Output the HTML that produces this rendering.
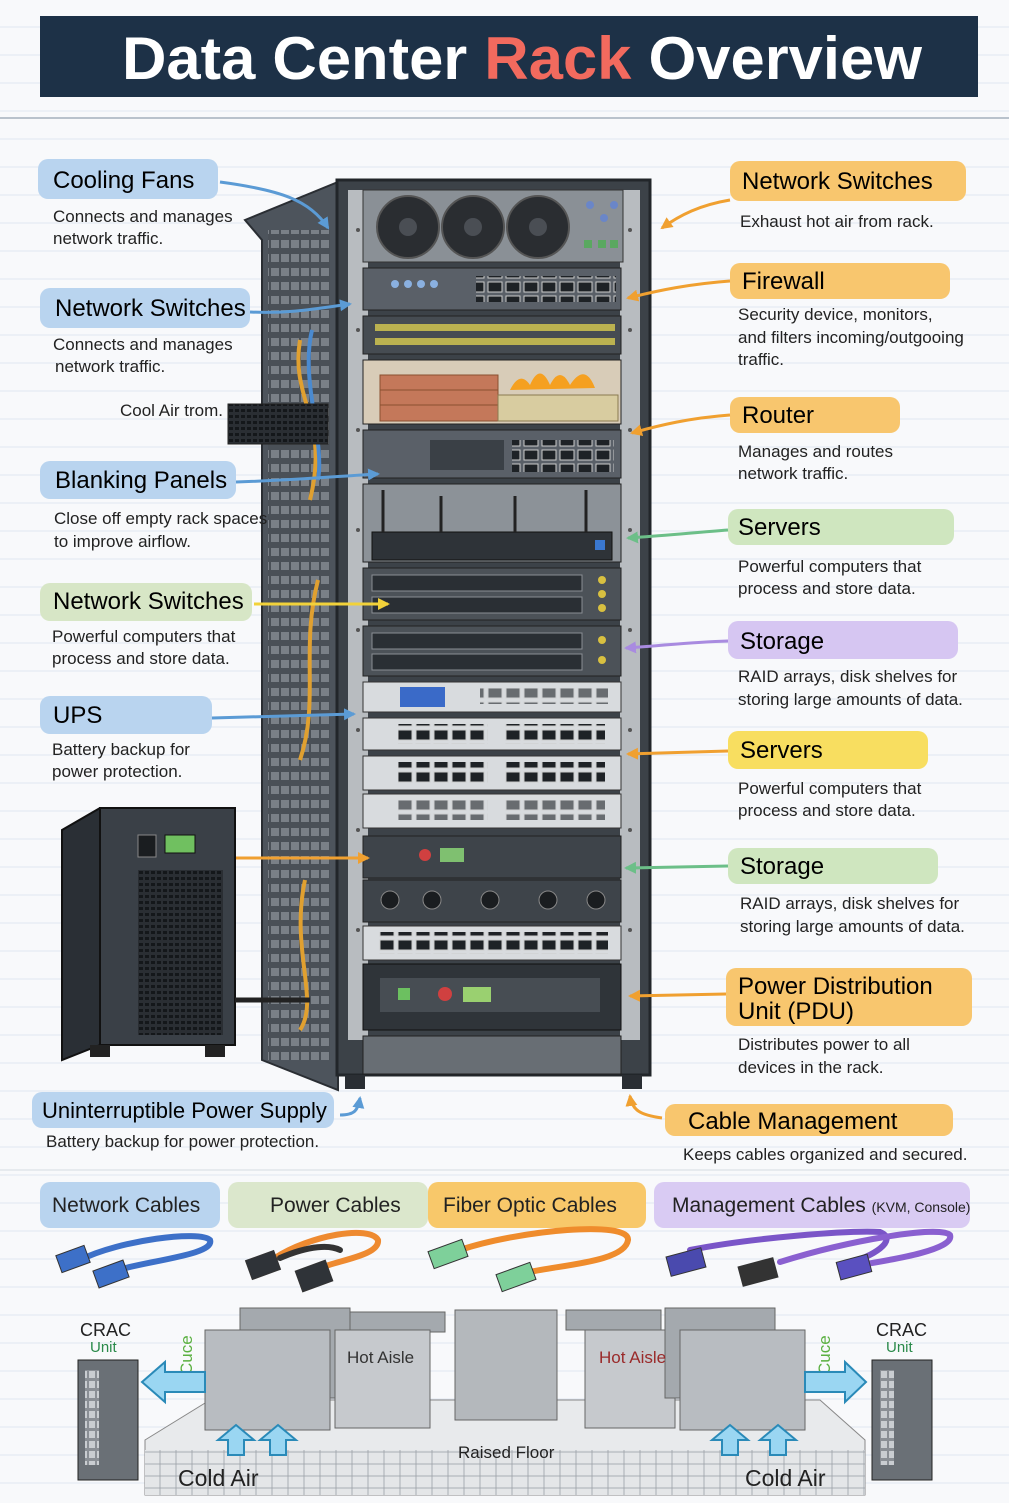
<!DOCTYPE html>
<html><head><meta charset="utf-8"><style>
html,body{margin:0;padding:0;background:#f7f8fa}
svg{display:block}
text{font-family:"Liberation Sans",sans-serif}
</style></head><body>
<svg width="1009" height="1503" viewBox="0 0 1009 1503" xmlns="http://www.w3.org/2000/svg">
<defs>
<pattern id="lines" width="1009" height="28" patternUnits="userSpaceOnUse"><line x1="0" y1="27" x2="1009" y2="27" stroke="#dfe6f0" stroke-width="1"/></pattern>
<pattern id="ports" width="18" height="14" patternUnits="userSpaceOnUse"><rect x="2" y="2" width="14" height="10" fill="#1e2226" stroke="#ccc" stroke-width="1"/></pattern>
<pattern id="grill" width="6" height="6" patternUnits="userSpaceOnUse"><rect width="6" height="6" fill="#2a2e33"/><rect x="1" y="1" width="4" height="3" fill="#14171a"/></pattern>
<pattern id="tiles" width="16" height="12" patternUnits="userSpaceOnUse"><rect width="16" height="12" fill="#e4e6e8" stroke="#9aa0a6" stroke-width="0.8"/></pattern>
<pattern id="vents" width="10" height="14" patternUnits="userSpaceOnUse"><rect width="10" height="14" fill="#4a5057"/><rect x="1" y="2" width="8" height="8" fill="#7a8087"/></pattern>
<pattern id="vents2" width="8" height="10" patternUnits="userSpaceOnUse"><rect width="8" height="10" fill="#8a8f95"/><rect x="1" y="1" width="6" height="7" fill="#c9cdd1"/></pattern>
<marker id="ab" markerUnits="userSpaceOnUse" markerWidth="14" markerHeight="14" refX="10" refY="7" orient="auto"><path d="M0,1 L12,7 L0,13 z" fill="#5b9bd5"/></marker>
<marker id="ao" markerUnits="userSpaceOnUse" markerWidth="14" markerHeight="14" refX="10" refY="7" orient="auto"><path d="M0,1 L12,7 L0,13 z" fill="#f0a030"/></marker>
<marker id="ag" markerUnits="userSpaceOnUse" markerWidth="14" markerHeight="14" refX="10" refY="7" orient="auto"><path d="M0,1 L12,7 L0,13 z" fill="#6cbf88"/></marker>
<marker id="ap" markerUnits="userSpaceOnUse" markerWidth="14" markerHeight="14" refX="10" refY="7" orient="auto"><path d="M0,1 L12,7 L0,13 z" fill="#a98be0"/></marker>
<marker id="ay" markerUnits="userSpaceOnUse" markerWidth="14" markerHeight="14" refX="10" refY="7" orient="auto"><path d="M0,1 L12,7 L0,13 z" fill="#f2d23a"/></marker>
</defs>
<rect width="1009" height="1503" fill="#f8f9fb"/>
<rect width="1009" height="1503" fill="url(#lines)"/>
<!-- title -->
<rect x="40" y="16" width="938" height="81" fill="#1d3147"/>
<text x="522" y="79" font-size="60" font-weight="bold" fill="#fff" text-anchor="middle" textLength="800" lengthAdjust="spacingAndGlyphs">Data Center <tspan fill="#f26a5e">Rack</tspan> Overview</text>
<line x1="0" y1="118" x2="1009" y2="118" stroke="#b9c2cc" stroke-width="2"/>

<!-- rack side panel -->
<polygon points="245,220 338,182 338,1090 262,1060 262,240" fill="#4d545c" stroke="#2a2e33" stroke-width="2"/>
<rect x="268" y="230" width="62" height="830" fill="url(#vents)"/>
<path d="M300,340 C290,400 330,420 310,500 M318,580 C300,650 320,700 300,760 M305,880 C290,950 320,1000 300,1030" stroke="#e0a030" stroke-width="4" fill="none"/>
<path d="M312,330 C300,380 325,440 318,480" stroke="#4a8ad0" stroke-width="4" fill="none"/>
<rect x="228" y="404" width="100" height="40" fill="url(#grill)" stroke="#222"/>
<!-- rack front frame -->
<rect x="337" y="180" width="313" height="895" fill="#3c4248" stroke="#22262a" stroke-width="3"/>
<rect x="348" y="190" width="20" height="850" fill="#b8bcc0"/>
<rect x="620" y="190" width="20" height="850" fill="#b8bcc0"/>
<g fill="#555">
<circle cx="358" cy="230" r="2"/><circle cx="358" cy="330" r="2"/><circle cx="358" cy="430" r="2"/><circle cx="358" cy="530" r="2"/><circle cx="358" cy="630" r="2"/><circle cx="358" cy="730" r="2"/><circle cx="358" cy="830" r="2"/><circle cx="358" cy="930" r="2"/>
<circle cx="630" cy="230" r="2"/><circle cx="630" cy="330" r="2"/><circle cx="630" cy="430" r="2"/><circle cx="630" cy="530" r="2"/><circle cx="630" cy="630" r="2"/><circle cx="630" cy="730" r="2"/><circle cx="630" cy="830" r="2"/><circle cx="630" cy="930" r="2"/>
</g>
<!-- fans -->
<rect x="363" y="190" width="260" height="72" fill="#8a9096" stroke="#333"/>
<g fill="#2a2d31" stroke="#555" stroke-width="2"><circle cx="408" cy="227" r="31"/><circle cx="473" cy="227" r="31"/><circle cx="538" cy="227" r="31"/></g>
<g fill="#4a4e54"><circle cx="408" cy="227" r="9"/><circle cx="473" cy="227" r="9"/><circle cx="538" cy="227" r="9"/></g>
<g fill="#5aa860"><rect x="584" y="240" width="8" height="8"/><rect x="598" y="240" width="8" height="8"/><rect x="610" y="240" width="8" height="8"/></g>
<g fill="#6a86c8"><circle cx="590" cy="205" r="4"/><circle cx="604" cy="218" r="4"/><circle cx="614" cy="205" r="4"/></g>
<!-- switch 1 -->
<rect x="363" y="268" width="258" height="42" fill="#5a6068" stroke="#222"/>
<rect x="476" y="276" width="140" height="26" fill="url(#ports)"/>
<g fill="#8ab0e0"><circle cx="395" cy="284" r="4"/><circle cx="408" cy="284" r="4"/><circle cx="421" cy="284" r="4"/><circle cx="434" cy="284" r="4"/></g>
<!-- patch -->
<rect x="363" y="316" width="258" height="38" fill="#464c52" stroke="#222"/>
<g fill="#d8cc50"><rect x="375" y="324" width="240" height="7" opacity="0.8"/><rect x="375" y="338" width="240" height="7" opacity="0.8"/></g>
<!-- firewall -->
<rect x="363" y="360" width="258" height="64" fill="#d8ccb8" stroke="#222"/>
<g fill="#c4785a" stroke="#8a5030"><rect x="380" y="375" width="118" height="46"/></g>
<g stroke="#8a5030" stroke-width="1"><line x1="380" y1="390" x2="498" y2="390"/><line x1="380" y1="405" x2="498" y2="405"/></g>
<rect x="498" y="395" width="120" height="26" fill="#d8cca0" stroke="#8a7a50"/>
<path d="M510,390 Q520,370 530,385 Q540,362 550,385 Q560,365 570,385 Q585,362 595,388 Z" fill="#f5a020"/>
<!-- router switch -->
<rect x="363" y="430" width="258" height="48" fill="#5a6068" stroke="#222"/>
<rect x="512" y="440" width="102" height="32" fill="url(#ports)"/>
<rect x="430" y="440" width="74" height="30" fill="#3a4046"/>
<!-- wifi blank -->
<rect x="363" y="484" width="258" height="78" fill="#8c9298" stroke="#222"/>
<rect x="372" y="532" width="240" height="28" fill="#2e3338" stroke="#111"/>
<g stroke="#222" stroke-width="3"><line x1="383" y1="532" x2="383" y2="490"/><line x1="441" y1="532" x2="441" y2="496"/><line x1="515" y1="532" x2="515" y2="496"/><line x1="586" y1="532" x2="586" y2="490"/></g>
<rect x="595" y="540" width="10" height="10" fill="#3a78d0"/>
<!-- servers -->
<g stroke="#222"><rect x="363" y="568" width="258" height="52" fill="#4c5258"/><rect x="363" y="626" width="258" height="50" fill="#4c5258"/></g>
<g fill="#2a2f34" stroke="#8a8f95"><rect x="372" y="575" width="210" height="16"/><rect x="372" y="597" width="210" height="16"/><rect x="372" y="633" width="210" height="16"/><rect x="372" y="654" width="210" height="16"/></g>
<g fill="#d8c040"><circle cx="602" cy="580" r="4"/><circle cx="602" cy="594" r="4"/><circle cx="602" cy="608" r="4"/><circle cx="602" cy="640" r="4"/><circle cx="602" cy="660" r="4"/></g>
<!-- light units -->
<g fill="#d8dbde" stroke="#333"><rect x="363" y="682" width="258" height="30"/><rect x="363" y="718" width="258" height="32"/><rect x="363" y="756" width="258" height="34"/><rect x="363" y="794" width="258" height="34"/></g>
<rect x="400" y="687" width="45" height="20" fill="#3a6ac8"/><rect x="480" y="688" width="128" height="16" fill="url(#ports)" opacity="0.6"/>
<rect x="398" y="724" width="90" height="20" fill="url(#ports)"/><rect x="505" y="724" width="100" height="20" fill="url(#ports)"/>
<rect x="398" y="762" width="90" height="22" fill="url(#ports)"/><rect x="505" y="762" width="100" height="22" fill="url(#ports)"/>
<rect x="398" y="800" width="90" height="20" fill="url(#ports)" opacity="0.6"/><rect x="505" y="800" width="100" height="20" fill="url(#ports)" opacity="0.6"/>
<!-- dark units -->
<g fill="#3e444a" stroke="#222"><rect x="363" y="836" width="258" height="42"/><rect x="363" y="880" width="258" height="42"/></g>
<rect x="440" y="848" width="24" height="14" fill="#7fc070"/><circle cx="425" cy="855" r="6" fill="#d04040"/>
<g fill="#1a1d20" stroke="#888"><circle cx="390" cy="900" r="9"/><circle cx="432" cy="900" r="9"/><circle cx="490" cy="900" r="9"/><circle cx="548" cy="900" r="9"/><circle cx="596" cy="900" r="9"/></g>
<rect x="363" y="926" width="258" height="34" fill="#d8dbde" stroke="#333"/>
<rect x="378" y="932" width="230" height="22" fill="url(#ports)"/>
<!-- PDU -->
<rect x="363" y="964" width="258" height="66" fill="#2f3439" stroke="#111"/>
<rect x="380" y="978" width="220" height="34" fill="#474d53"/>
<rect x="398" y="988" width="12" height="12" fill="#6cc060"/><circle cx="445" cy="994" r="7" fill="#d04040"/><rect x="463" y="987" width="28" height="15" fill="#9ad070"/>
<rect x="363" y="1036" width="258" height="38" fill="#686e74" stroke="#222"/>
<rect x="345" y="1075" width="20" height="14" fill="#2a2e33"/><rect x="622" y="1075" width="20" height="14" fill="#2a2e33"/>

<!-- UPS -->
<polygon points="62,830 100,808 235,808 235,1045 100,1045 62,1060" fill="#2a2f35" stroke="#111" stroke-width="2"/>
<rect x="100" y="808" width="135" height="237" fill="#3a4047" stroke="#111" stroke-width="2"/>
<rect x="138" y="870" width="85" height="165" fill="url(#grill)"/>
<rect x="165" y="835" width="30" height="18" fill="#70c060" stroke="#111"/>
<rect x="138" y="835" width="18" height="22" fill="#1a1d20" stroke="#888"/>
<rect x="90" y="1045" width="20" height="12" fill="#222"/><rect x="205" y="1045" width="20" height="12" fill="#222"/>
<path d="M235,1000 L310,1000" stroke="#222" stroke-width="5"/>

<!-- left labels -->
<g font-size="24">
<rect x="38" y="159" width="180" height="40" rx="10" fill="#b9d4ef"/><text x="53" y="188">Cooling Fans</text>
<rect x="40" y="288" width="210" height="40" rx="10" fill="#b9d4ef"/><text x="55" y="316">Network Switches</text>
<rect x="40" y="461" width="196" height="38" rx="10" fill="#b9d4ef"/><text x="55" y="488">Blanking Panels</text>
<rect x="40" y="583" width="212" height="38" rx="10" fill="#d7e6c6"/><text x="53" y="609">Network Switches</text>
<rect x="40" y="696" width="172" height="38" rx="10" fill="#b9d4ef"/><text x="53" y="723">UPS</text>
<rect x="32" y="1092" width="302" height="36" rx="10" fill="#b9d4ef"/><text x="42" y="1118" font-size="22">Uninterruptible Power Supply</text>
</g>
<g font-size="17" fill="#222">
<text x="53" y="222">Connects and manages</text><text x="53" y="244">network traffic.</text>
<text x="53" y="350">Connects and manages</text><text x="55" y="372">network traffic.</text>
<text x="120" y="416">Cool Air trom.</text>
<text x="54" y="524">Close off empty rack spaces</text><text x="54" y="547">to improve airflow.</text>
<text x="52" y="642">Powerful computers that</text><text x="52" y="664">process and store data.</text>
<text x="52" y="755">Battery backup for</text><text x="52" y="777">power protection.</text>
<text x="46" y="1147">Battery backup for power protection.</text>
</g>
<!-- left arrows -->
<g fill="none" stroke-width="3">
<path d="M220,182 C280,190 310,200 328,228" stroke="#5b9bd5" marker-end="url(#ab)"/>
<path d="M250,312 C290,314 320,308 350,304" stroke="#5b9bd5" marker-end="url(#ab)"/>
<path d="M236,482 C300,480 340,476 378,474" stroke="#5b9bd5" marker-end="url(#ab)"/>
<path d="M254,604 L388,604" stroke="#f2d23a" marker-end="url(#ay)"/>
<path d="M212,718 L354,714" stroke="#5b9bd5" marker-end="url(#ab)"/>
<path d="M236,858 L368,858" stroke="#f0a030" marker-end="url(#ao)"/>
<path d="M340,1115 C355,1115 358,1110 360,1098" stroke="#5b9bd5" marker-end="url(#ab)"/>
</g>

<!-- right labels -->
<g font-size="24">
<rect x="730" y="161" width="236" height="40" rx="10" fill="#f8c66e"/><text x="742" y="189">Network Switches</text>
<rect x="730" y="263" width="220" height="36" rx="10" fill="#f8c66e"/><text x="742" y="289">Firewall</text>
<rect x="730" y="397" width="170" height="36" rx="10" fill="#f8c66e"/><text x="742" y="423">Router</text>
<rect x="728" y="509" width="226" height="36" rx="10" fill="#cfe6bf"/><text x="738" y="535">Servers</text>
<rect x="728" y="621" width="230" height="38" rx="10" fill="#d6c6f2"/><text x="740" y="649">Storage</text>
<rect x="728" y="731" width="200" height="38" rx="10" fill="#f8de60"/><text x="740" y="758">Servers</text>
<rect x="728" y="848" width="210" height="36" rx="10" fill="#cfe6bf"/><text x="740" y="874">Storage</text>
<rect x="726" y="968" width="246" height="58" rx="10" fill="#f8c66e"/><text x="738" y="994">Power Distribution</text><text x="738" y="1019">Unit (PDU)</text>
<rect x="665" y="1104" width="288" height="32" rx="10" fill="#f8c66e"/><text x="688" y="1129">Cable Management</text>
</g>
<g font-size="17" fill="#222">
<text x="740" y="227">Exhaust hot air from rack.</text>
<text x="738" y="320">Security device, monitors,</text><text x="738" y="343">and filters incoming/outgooing</text><text x="738" y="365">traffic.</text>
<text x="738" y="457">Manages and routes</text><text x="738" y="479">network traffic.</text>
<text x="738" y="572">Powerful computers that</text><text x="738" y="594">process and store data.</text>
<text x="738" y="682">RAID arrays, disk shelves for</text><text x="738" y="705">storing large amounts of data.</text>
<text x="738" y="794">Powerful computers that</text><text x="738" y="816">process and store data.</text>
<text x="740" y="909">RAID arrays, disk shelves for</text><text x="740" y="932">storing large amounts of data.</text>
<text x="738" y="1050">Distributes power to all</text><text x="738" y="1073">devices in the rack.</text>
<text x="683" y="1160">Keeps cables organized and secured.</text>
</g>
<g fill="none" stroke-width="3">
<path d="M730,200 C700,205 680,215 662,228" stroke="#f0a030" marker-end="url(#ao)"/>
<path d="M730,281 C690,284 660,290 628,298" stroke="#f0a030" marker-end="url(#ao)"/>
<path d="M730,415 C690,418 660,425 632,433" stroke="#f0a030" marker-end="url(#ao)"/>
<path d="M728,530 C690,533 660,536 628,538" stroke="#6cbf88" marker-end="url(#ag)"/>
<path d="M728,641 C690,642 660,646 626,648" stroke="#a98be0" marker-end="url(#ap)"/>
<path d="M728,751 L628,754" stroke="#f0a030" marker-end="url(#ao)"/>
<path d="M728,866 L626,868" stroke="#6cbf88" marker-end="url(#ag)"/>
<path d="M726,994 L630,996" stroke="#f0a030" marker-end="url(#ao)"/>
<path d="M662,1118 C640,1115 632,1110 630,1096" stroke="#f0a030" marker-end="url(#ao)"/>
</g>
<line x1="0" y1="1170" x2="1009" y2="1170" stroke="#d5dbe2" stroke-width="1"/>

<!-- cable legend -->
<rect x="40" y="1182" width="180" height="46" rx="10" fill="#b9d4ef"/>
<rect x="228" y="1182" width="200" height="46" rx="10" fill="#dbe7cc"/>
<rect x="428" y="1182" width="218" height="46" rx="10" fill="#f8c86a"/>
<rect x="654" y="1182" width="316" height="46" rx="10" fill="#d9cbf3"/>
<g font-size="21" fill="#222">
<text x="52" y="1212">Network Cables</text>
<text x="270" y="1212">Power Cables</text>
<text x="443" y="1212">Fiber Optic Cables</text>
<text x="672" y="1212">Management Cables <tspan font-size="14">(KVM, Console)</tspan></text>
</g>
<g fill="none" stroke-width="6" stroke-linecap="round">
<path d="M80,1260 C120,1240 200,1230 210,1240 C215,1255 150,1260 110,1272" stroke="#3d70c8"/>
<path d="M275,1258 C310,1235 370,1225 378,1240 C380,1255 340,1260 320,1268" stroke="#ee8a30"/>
<path d="M280,1258 C310,1245 330,1245 340,1250" stroke="#333"/>
<path d="M460,1250 C520,1230 630,1220 628,1240 C625,1262 560,1265 530,1272" stroke="#ef8c2c"/>
<path d="M690,1250 C750,1238 850,1230 880,1232 C900,1240 870,1258 850,1262" stroke="#7a55c8"/>
<path d="M780,1262 C850,1240 940,1225 950,1235 C955,1250 890,1260 860,1265" stroke="#8a60d0"/>
</g>
<g stroke="#333" stroke-width="1">
<rect x="58" y="1250" width="30" height="18" fill="#3d70c8" transform="rotate(-20 73 1259)"/>
<rect x="95" y="1265" width="32" height="18" fill="#3d70c8" transform="rotate(-20 111 1274)"/>
<rect x="248" y="1255" width="30" height="20" fill="#2f3338" transform="rotate(-20 263 1265)"/>
<rect x="298" y="1265" width="32" height="22" fill="#2f3338" transform="rotate(-20 314 1276)"/>
<rect x="430" y="1245" width="36" height="18" fill="#7ed09a" transform="rotate(-20 448 1254)"/>
<rect x="498" y="1268" width="36" height="18" fill="#7ed09a" transform="rotate(-20 516 1277)"/>
<rect x="668" y="1252" width="36" height="20" fill="#4a4aae" transform="rotate(-15 686 1262)"/>
<rect x="740" y="1262" width="36" height="20" fill="#333" transform="rotate(-15 758 1272)"/>
<rect x="838" y="1258" width="32" height="18" fill="#5a50c0" transform="rotate(-15 854 1267)"/>
</g>

<!-- data hall -->
<polygon points="145,1440 210,1400 820,1400 865,1440 865,1495 145,1495" fill="#e8eaec" stroke="#888"/>
<rect x="145" y="1450" width="720" height="45" fill="url(#tiles)"/>
<g stroke="#666" fill="#b8bcc1">
<rect x="240" y="1308" width="110" height="90" fill="#a4a9ae"/>
<rect x="205" y="1330" width="125" height="100"/>
<rect x="350" y="1312" width="95" height="20" fill="#a4a9ae"/>
<rect x="335" y="1330" width="95" height="98" fill="#c6c9cd"/>
<rect x="455" y="1310" width="102" height="110" fill="#b4b8bc"/>
<rect x="566" y="1310" width="95" height="20" fill="#a4a9ae"/>
<rect x="585" y="1330" width="90" height="98" fill="#c6c9cd"/>
<rect x="665" y="1308" width="110" height="90" fill="#a4a9ae"/>
<rect x="680" y="1330" width="125" height="100"/>
</g>
<g fill="#6a7076"><rect x="78" y="1360" width="60" height="120" stroke="#222"/><rect x="872" y="1360" width="60" height="120" stroke="#222"/></g>
<rect x="85" y="1370" width="14" height="95" fill="url(#vents2)"/><rect x="880" y="1370" width="14" height="95" fill="url(#vents2)"/>
<g font-size="18" fill="#222"><text x="80" y="1336">CRAC</text><text x="876" y="1336">CRAC</text></g>
<g font-size="15" fill="#2a8a4a"><text x="90" y="1352">Unit</text><text x="886" y="1352">Unit</text></g>
<text x="347" y="1363" font-size="17" fill="#333">Hot Aisle</text>
<text x="599" y="1363" font-size="17" fill="#9a2a2a">Hot Aisle</text>
<text x="458" y="1458" font-size="17" fill="#222">Raised Floor</text>
<g font-size="23" fill="#222"><text x="178" y="1486">Cold Air</text><text x="745" y="1486">Cold Air</text></g>
<g font-size="17" fill="#5ab040"><text transform="translate(192,1375) rotate(-90)">Cuce</text><text transform="translate(830,1375) rotate(-90)">Cuce</text></g>
<g fill="#9ad6f2" stroke="#2a8ab8" stroke-width="2">
<polygon points="205,1372 165,1372 165,1362 142,1382 165,1402 165,1392 205,1392"/>
<polygon points="805,1372 845,1372 845,1362 866,1382 845,1402 845,1392 805,1392"/>
<polygon points="228,1455 228,1440 218,1440 236,1425 254,1440 244,1440 244,1455"/>
<polygon points="270,1455 270,1440 260,1440 278,1425 296,1440 286,1440 286,1455"/>
<polygon points="722,1455 722,1440 712,1440 730,1425 748,1440 738,1440 738,1455"/>
<polygon points="770,1455 770,1440 760,1440 778,1425 796,1440 786,1440 786,1455"/>
</g>
</svg>
</body></html>
